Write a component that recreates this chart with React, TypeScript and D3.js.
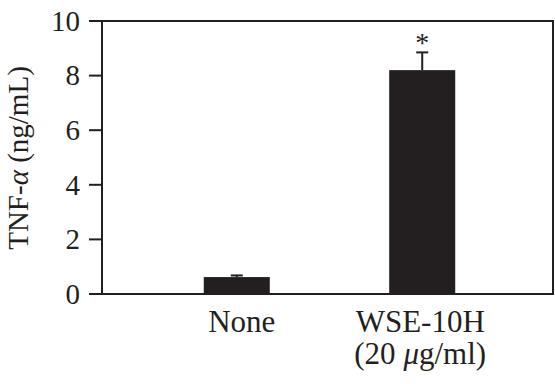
import React from "react";
import * as d3 from "d3";

const categories = ["None", "WSE-10H"];
const labelLines = [["None"], ["WSE-10H", "(20 μg/ml)"]];
const values = [0.62, 8.2];
const errors = [0.06, 0.65];
const marks = ["", "*"];
const yTicks = [0, 2, 4, 6, 8, 10];

const W = 555;
const H = 384;
const M = { left: 102, right: 553, top: 21, bottom: 294 };
const INK = "#231f20";
const FONT = "'Liberation Serif', 'Times New Roman', serif";

export default function App() {
  const x = d3
    .scaleBand<string>()
    .domain(categories)
    .range([M.left, M.right])
    .paddingInner(0.644)
    .paddingOuter(0.538)
    .align(0.51);
  const y = d3.scaleLinear().domain([0, 10]).range([M.bottom, M.top]);
  const bw = x.bandwidth();

  return (
    <svg
      width={W}
      height={H}
      style={{ position: "absolute", left: 0, top: 0, background: "#fff" }}
      fontFamily={FONT}
    >
      {/* bars */}
      {categories.map((c, i) => {
        const x0 = x(c)!;
        const cx = x0 + bw / 2;
        const top = y(values[i] + errors[i]);
        return (
          <g key={c}>
            <line x1={cx} x2={cx} y1={y(values[i])} y2={top} stroke={INK} strokeWidth={2} />
            <line x1={cx - 6} x2={cx + 6} y1={top} y2={top} stroke={INK} strokeWidth={2} />
            <rect x={x0} y={y(values[i])} width={bw} height={y(0) - y(values[i])} fill={INK} />
            {marks[i] && (
              <text x={cx} y={top - 0.5} textAnchor="middle" fontSize={28} fill={INK}>
                {marks[i]}
              </text>
            )}
          </g>
        );
      })}
      {/* frame */}
      <rect
        x={M.left}
        y={M.top}
        width={M.right - M.left}
        height={M.bottom - M.top}
        fill="none"
        stroke={INK}
        strokeWidth={2}
      />
      {/* y ticks */}
      {yTicks.map((t) => (
        <g key={t}>
          <line x1={89} x2={M.left} y1={y(t)} y2={y(t)} stroke={INK} strokeWidth={2} />
          <text
            x={80}
            y={y(t)}
            dy="0.34em"
            textAnchor="end"
            fontSize={29}
            fill={INK}
          >
            {t}
          </text>
        </g>
      ))}
      {/* y label */}
      <text
        transform={`translate(28, ${158}) rotate(-90)`}
        textAnchor="middle"
        fontSize={29}
        fill={INK}
      >
        TNF-<tspan fontStyle="italic">α</tspan> (ng/mL)
      </text>
      {/* x labels */}
      {categories.map((c, i) => (
        <text key={c} textAnchor="middle" fontSize={31} fill={INK}>
          {labelLines[i].map((ln, j) => (
            <tspan key={j} x={x(c)! + bw / 2 + (i === 0 ? 5 : -2)} y={332 + j * 32}>
              {ln.includes("μ") ? (
                <>
                  (20 <tspan fontStyle="italic">μ</tspan>g/ml)
                </>
              ) : (
                ln
              )}
            </tspan>
          ))}
        </text>
      ))}
    </svg>
  );
}
